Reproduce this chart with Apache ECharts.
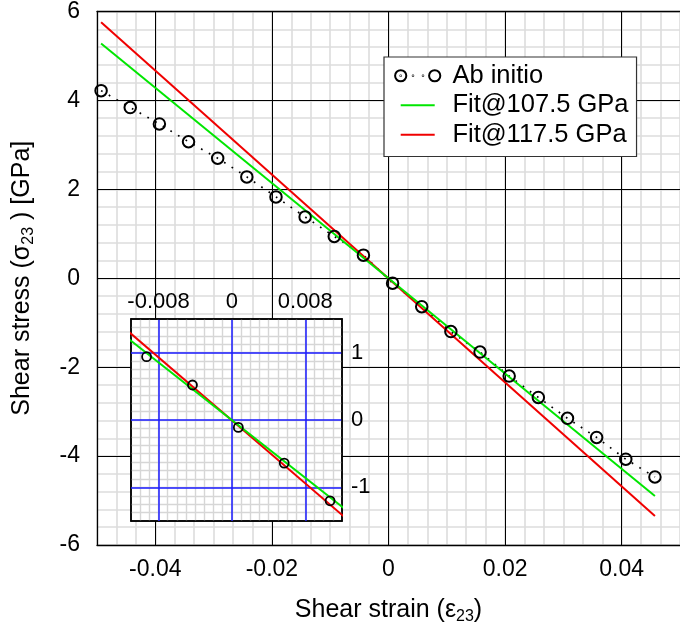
<!DOCTYPE html>
<html>
<head>
<meta charset="utf-8">
<script src="https://cdn.jsdelivr.net/npm/echarts@6/dist/echarts.min.js"></script>
<style>
  html, body { margin: 0; padding: 0; background: #fff; }
  #chart { width: 680px; height: 631px; }
</style>
</head>
<body>
<div id="chart"></div>
<script>
// Engineering shear strain of each ab initio run
const strain = [
  -0.0493, -0.0443, -0.0393, -0.0343, -0.0293, -0.0243, -0.0193, -0.0143, -0.0093, -0.0043,
   0.0007,  0.0057,  0.0107,  0.0157,  0.0207,  0.0257,  0.0307,  0.0357,  0.0407,  0.0457
];
// Resulting shear stress sigma_23 in GPa
const stressAbInitio = [
   4.22,  3.84,  3.47,  3.07,  2.70,  2.28,  1.83,  1.38,  0.94,  0.52,
  -0.11, -0.64, -1.20, -1.66, -2.20, -2.68, -3.15, -3.58, -4.07, -4.47
];
// Linear fits, each given by its two end points
const fitStrain = [-0.0493, 0.0457];
const fit1075 = [5.28, -4.90];
const fit1175 = [5.76, -5.35];

// Tick values
const mainStrainTicks = [-0.04, -0.02, 0, 0.02, 0.04];
const insetStrainTicks = [-0.008, 0, 0.008];
const insetStressTicks = [-1, 0, 1];

const seriesNames = ['Ab initio', 'Fit@107.5 GPa', 'Fit@117.5 GPa'];
const GREEN = '#00e600';
const RED = '#f00000';
const BLUE = '#1a1aff';
const FONT = '"Liberation Sans", Arial, Helvetica, sans-serif';

const pairs = (xs, ys) => xs.map((x, i) => [x, ys[i]]);
const abData = pairs(strain, stressAbInitio);
const fitA = pairs(fitStrain, fit1075);
const fitB = pairs(fitStrain, fit1175);

// Legend glyphs: two open circles joined by dots, and a short line segment
const ring = (cx) => `M${cx + 5.6},7 A5.6,5.6 0 1 1 ${cx - 5.6},7 A5.6,5.6 0 1 1 ${cx + 5.6},7 Z`;
const dot = (cx) => `M${cx + 0.25},7 A0.25,0.25 0 1 1 ${cx - 0.25},7 A0.25,0.25 0 1 1 ${cx + 0.25},7 Z`;
const ICON_W = 53.4, ICON_H = 14;
const frame = `M0,0 M${ICON_W},${ICON_H} `;
const abIcon = 'path://' + frame + ring(6.7) + ' ' + dot(6.7) + ' ' + dot(19) + ' ' + dot(29) + ' ' + ring(40.7);
const lineIcon = 'path://' + frame + 'M6.7,6 L40.7,6 L40.7,8 L6.7,8 Z';

const richName = {
  a: { fontSize: 25, lineHeight: 30, fontFamily: FONT, color: '#000' },
  s: { fontSize: 16, lineHeight: 4, verticalAlign: 'bottom', fontFamily: FONT, color: '#000' }
};

const gridLineMinor = { color: '#dcdcdc', width: 1.6 };
const blackLine = { color: '#000', width: 1.3 };

// Blue reference lines of the inset, at its labelled ticks
const insetRefLines = [
  ...insetStrainTicks.map(v => ({ xAxis: v })),
  ...insetStressTicks.map(v => ({ yAxis: v }))
];

const chart = echarts.init(document.getElementById('chart'), null, { renderer: 'canvas' });
chart.setOption({
  animation: false,
  backgroundColor: '#fff',
  textStyle: { fontFamily: FONT },
  grid: [
    { left: 97, top: 10, width: 590, height: 535, show: false },
    { left: 131, top: 319, width: 211, height: 202, show: true, z: 5,
      backgroundColor: '#fff', borderColor: '#000', borderWidth: 1.5 }
  ],
  legend: {
    left: 384, top: 57, orient: 'vertical', selectedMode: false, z: 10,
    backgroundColor: '#fff', borderColor: '#333', borderWidth: 1.2,
    padding: [4, 8, 7, 9], itemGap: 0, itemWidth: ICON_W, itemHeight: ICON_H,
    textStyle: { fontSize: 25.5, lineHeight: 29.5, color: '#000', fontFamily: FONT },
    data: [
      { name: seriesNames[0], icon: abIcon,
        itemStyle: { color: 'rgba(0,0,0,0)', borderColor: '#000', borderWidth: 2 } },
      { name: seriesNames[1], icon: lineIcon, itemStyle: { color: GREEN, borderWidth: 0 } },
      { name: seriesNames[2], icon: lineIcon, itemStyle: { color: RED, borderWidth: 0 } }
    ]
  },
  xAxis: [
    { // main strain axis
      type: 'value', gridIndex: 0, min: -0.05, max: 0.05, position: 'bottom', z: 2,
      axisLine: { show: true, onZero: false, lineStyle: blackLine },
      axisTick: { show: false, customValues: mainStrainTicks },
      axisLabel: { customValues: mainStrainTicks, fontSize: 23, color: '#000', margin: 13, fontFamily: FONT },
      splitLine: { show: true, lineStyle: { color: '#000', width: 1 } },
      name: '{a|Shear strain (ε}{s|23}{a|)}', nameLocation: 'middle', nameGap: 50,
      nameTextStyle: { rich: richName }
    },
    { // fine strain grid of the main panel
      type: 'value', gridIndex: 0, min: -0.05, max: 0.05, interval: 1 / 300, position: 'top', z: 1,
      axisLine: { show: true, onZero: false, lineStyle: blackLine },
      axisTick: { show: false }, axisLabel: { show: false },
      splitLine: { show: true, lineStyle: gridLineMinor }
    },
    { // inset strain axis
      type: 'value', gridIndex: 1, min: -0.011, max: 0.012, position: 'top', z: 6,
      axisLine: { show: true, onZero: false, lineStyle: { color: '#000', width: 1.5 } },
      axisTick: { show: false, customValues: insetStrainTicks },
      axisLabel: { customValues: insetStrainTicks, fontSize: 22, color: '#000', margin: 6, fontFamily: FONT },
      splitLine: { show: false }
    },
    { // fine strain grid of the inset
      type: 'value', gridIndex: 1, min: -0.011, max: 0.012, interval: 0.001, position: 'bottom', z: 5,
      axisLine: { show: true, onZero: false, lineStyle: { color: '#000', width: 1.5 } },
      axisTick: { show: false }, axisLabel: { show: false },
      splitLine: { show: true, showMinLine: false, showMaxLine: false, lineStyle: { color: '#d6d6d6', width: 1.4 } }
    }
  ],
  yAxis: [
    { // main stress axis
      type: 'value', gridIndex: 0, min: -6, max: 6, interval: 2, position: 'left', z: 2,
      axisLine: { show: true, onZero: false, lineStyle: blackLine },
      axisTick: { show: false },
      axisLabel: { fontSize: 23, color: '#000', margin: 17, fontFamily: FONT },
      splitLine: { show: true, lineStyle: { color: '#000', width: 1 } },
      name: '{a|Shear stress (σ}{s|23}{a| ) [GPa]}', nameLocation: 'middle', nameRotate: 90, nameGap: 60,
      nameTextStyle: { rich: richName }
    },
    { // fine stress grid of the main panel
      type: 'value', gridIndex: 0, min: -6, max: 6, interval: 0.4, position: 'right', z: 0,
      axisLine: { show: false }, axisTick: { show: false }, axisLabel: { show: false },
      splitLine: { show: true, lineStyle: gridLineMinor }
    },
    { // inset stress axis
      type: 'value', gridIndex: 1, min: -1.5, max: 1.5, position: 'right', z: 6,
      axisLine: { show: true, onZero: false, lineStyle: { color: '#000', width: 1.5 } },
      axisTick: { show: false, customValues: insetStressTicks },
      axisLabel: { customValues: insetStressTicks, fontSize: 22, color: '#000', margin: 9, fontFamily: FONT },
      splitLine: { show: false }
    },
    { // fine stress grid of the inset
      type: 'value', gridIndex: 1, min: -1.5, max: 1.5, interval: 0.125, position: 'left', z: 5,
      axisLine: { show: true, onZero: false, lineStyle: { color: '#000', width: 1.5 } },
      axisTick: { show: false }, axisLabel: { show: false },
      splitLine: { show: true, showMinLine: false, showMaxLine: false, lineStyle: { color: '#d6d6d6', width: 1.4 } }
    }
  ],
  series: [
    { name: seriesNames[0], type: 'line', xAxisIndex: 0, yAxisIndex: 0, z: 3, silent: true,
      data: abData, symbol: 'circle', symbolSize: 11.5, showAllSymbol: true,
      itemStyle: { color: 'rgba(0,0,0,0)', borderColor: '#000', borderWidth: 2 },
      lineStyle: { color: '#000', width: 1.7, type: [1.7, 7.2] } },
    { name: seriesNames[2], type: 'line', xAxisIndex: 0, yAxisIndex: 0, z: 3, silent: true,
      data: fitB, symbol: 'none', lineStyle: { color: RED, width: 2 } },
    { name: seriesNames[1], type: 'line', xAxisIndex: 0, yAxisIndex: 0, z: 3, silent: true,
      data: fitA, symbol: 'none', lineStyle: { color: GREEN, width: 2 } },

    // zoomed view around zero strain
    { type: 'line', xAxisIndex: 2, yAxisIndex: 2, z: 6, silent: true, data: [],
      markLine: { z: 6, silent: true, precision: 6, symbol: ['none', 'none'], label: { show: false },
        lineStyle: { color: BLUE, width: 1.5, type: 'solid' }, emphasis: { disabled: true },
        data: insetRefLines } },
    { name: seriesNames[2], type: 'line', xAxisIndex: 2, yAxisIndex: 2, z: 7, silent: true, clip: true,
      data: fitB, symbol: 'none', lineStyle: { color: RED, width: 2 } },
    { name: seriesNames[1], type: 'line', xAxisIndex: 2, yAxisIndex: 2, z: 7, silent: true, clip: true,
      data: fitA, symbol: 'none', lineStyle: { color: GREEN, width: 2 } },
    { name: seriesNames[0], type: 'scatter', xAxisIndex: 2, yAxisIndex: 2, z: 8, silent: true, clip: true,
      data: abData, symbol: 'circle', symbolSize: 9,
      itemStyle: { color: 'rgba(0,0,0,0)', borderColor: '#000', borderWidth: 1.8, opacity: 1 } }
  ]
});
</script>
</body>
</html>
